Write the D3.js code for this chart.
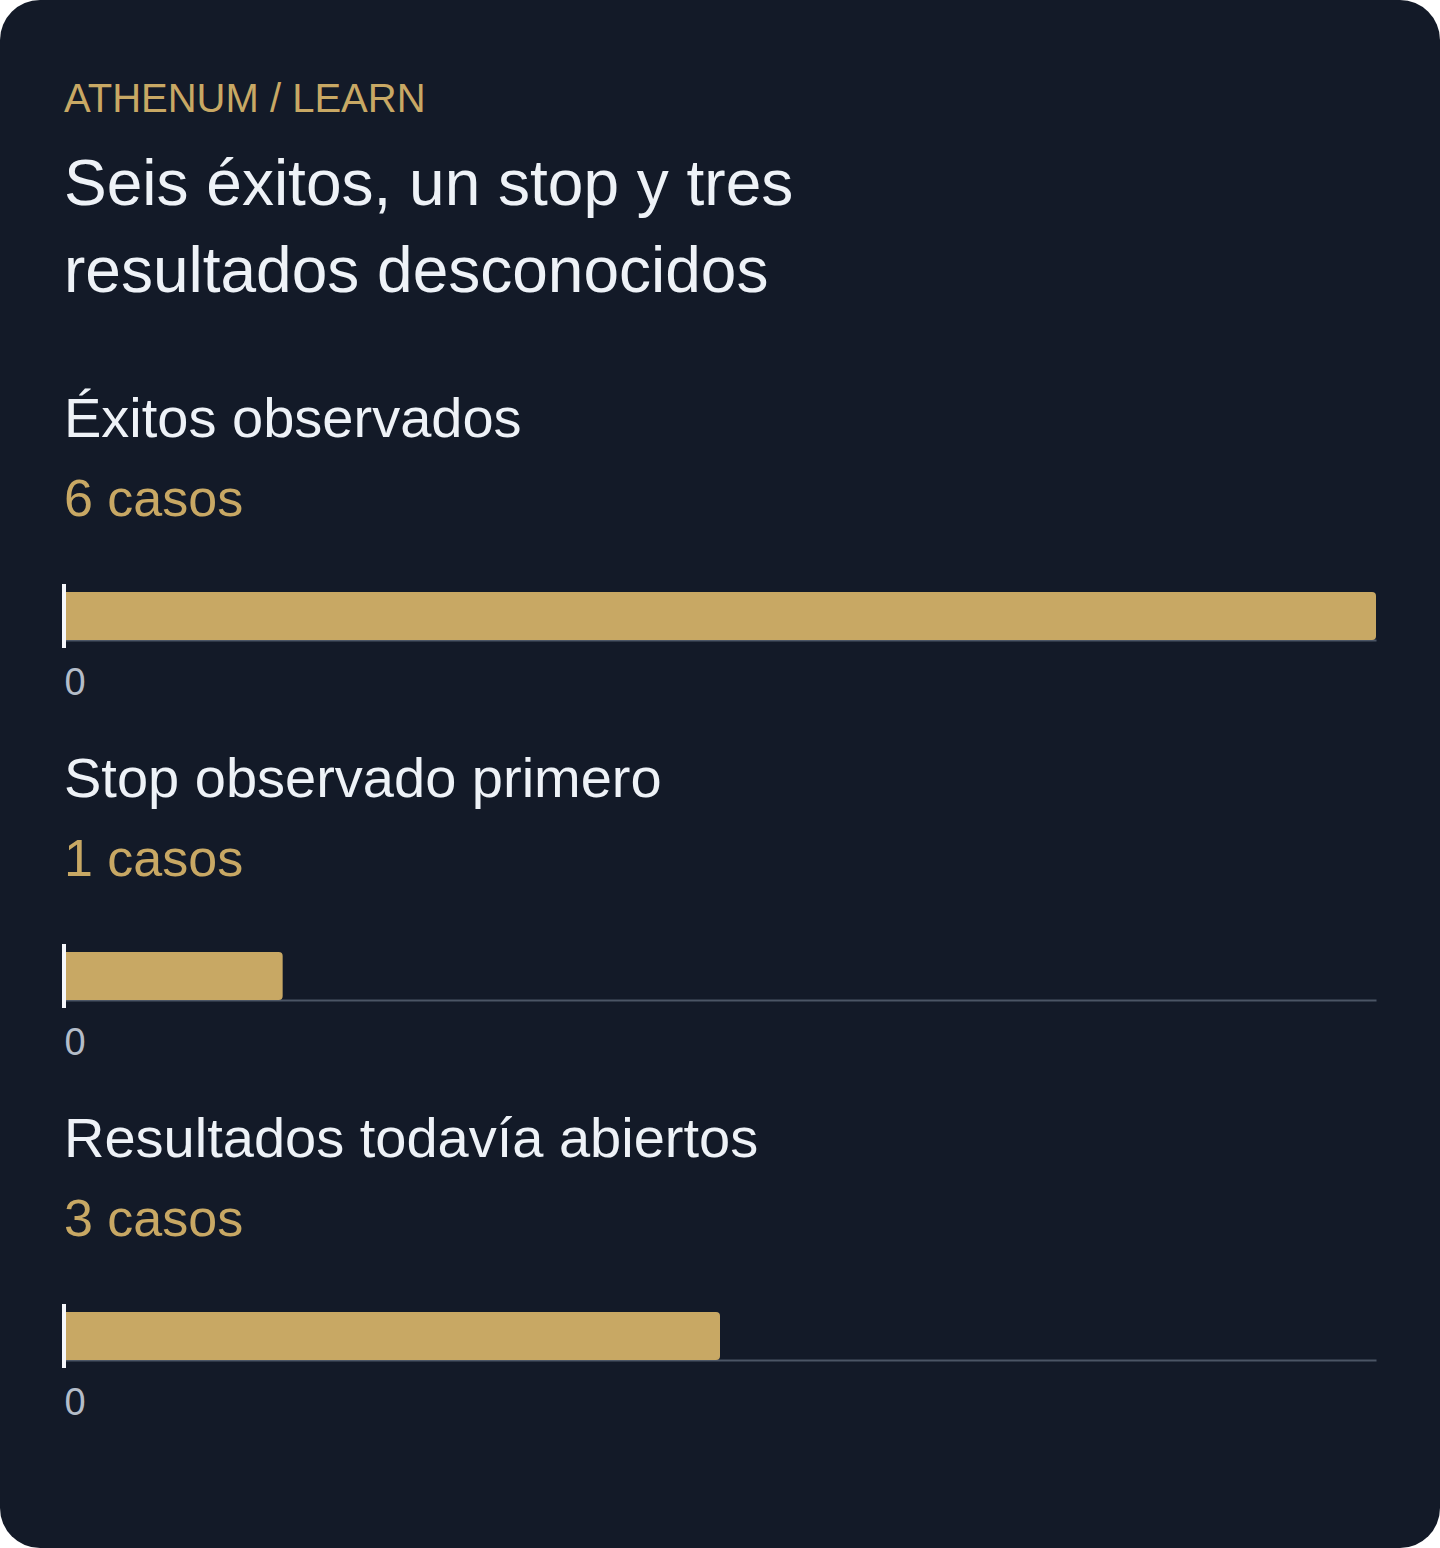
<!DOCTYPE html>
<html>
<head>
<meta charset="utf-8">
<script src="https://cdn.jsdelivr.net/npm/d3@7"></script>
<style>
  html, body { margin: 0; padding: 0; background: #ffffff; }
  svg { display: block; font-family: "Liberation Sans", Arial, sans-serif; }
</style>
</head>
<body>
<svg width="1440" height="1548"></svg>
<script>
// chart content
var kicker = "ATHENUM / LEARN";
var titleLines = ["Seis éxitos, un stop y tres", "resultados desconocidos"];
var categories = ["Éxitos observados", "Stop observado primero", "Resultados todavía abiertos"];
var counts = [6, 1, 3];
var unitLabel = "casos";
var tickValues = [0];

var W = 1440, H = 1548;
var left = 64, right = 1376;
var panelTop = 360, panelStep = 360;
var barH = 48;

var gold = "#c8a864", ink = "#eef2f7", bg = "#131a28";

var svg = d3.select("svg");

// card
svg.append("rect")
  .attr("width", W).attr("height", H)
  .attr("rx", 40).attr("ry", 40)
  .attr("fill", bg);

svg.append("text")
  .attr("x", left).attr("y", 112)
  .attr("fill", gold)
  .attr("font-size", 40)
  .text(kicker);

svg.append("text")
  .attr("fill", ink)
  .attr("font-size", 64)
  .selectAll("tspan")
  .data(titleLines)
  .enter().append("tspan")
  .attr("x", left)
  .attr("y", function(d, i) { return 205 + i * 87; })
  .text(function(d) { return d; });

var x = d3.scaleLinear().domain([0, d3.max(counts)]).range([left, right]);

// right-rounded bar shape
function barPath(x0, y0, w, h, r) {
  r = Math.min(r, w);
  return "M" + x0 + "," + y0 +
    "H" + (x0 + w - r) +
    "Q" + (x0 + w) + "," + y0 + " " + (x0 + w) + "," + (y0 + r) +
    "V" + (y0 + h - r) +
    "Q" + (x0 + w) + "," + (y0 + h) + " " + (x0 + w - r) + "," + (y0 + h) +
    "H" + x0 + "Z";
}

var panels = svg.selectAll("g.panel")
  .data(categories)
  .enter().append("g")
  .attr("class", "panel")
  .attr("transform", function(d, i) { return "translate(0," + (panelTop + i * panelStep) + ")"; });

panels.append("text")
  .attr("x", left).attr("y", 77)
  .attr("fill", ink)
  .attr("font-size", 56)
  .text(function(d) { return d; });

panels.append("text")
  .attr("x", left).attr("y", 156)
  .attr("fill", gold)
  .attr("font-size", 52)
  .text(function(d, i) { return counts[i] + " " + unitLabel; });

panels.each(function(d, i) {
  var g = d3.select(this);
  var axisY = 232 + barH;

  var axis = g.append("g")
    .attr("transform", "translate(0," + axisY + ")")
    .call(d3.axisBottom(x).tickValues(tickValues).tickFormat(d3.format("d")).tickSizeOuter(0).tickSize(0));

  axis.select(".domain").attr("stroke", "#4b5565").attr("stroke-width", 2);
  axis.selectAll(".tick line").remove();
  axis.selectAll(".tick text")
    .attr("fill", "#b4bdc9")
    .attr("font-size", 38)
    .attr("font-family", "Liberation Sans, Arial, sans-serif")
    .attr("text-anchor", "start")
    .attr("dy", null)
    .attr("y", 55);

  g.append("path")
    .attr("d", barPath(x(0), 232, x(counts[i]) - x(0), barH, 4))
    .attr("fill", gold);

  // zero baseline marker
  g.append("line")
    .attr("x1", x(0)).attr("x2", x(0))
    .attr("y1", 224).attr("y2", 288)
    .attr("stroke", "#f5f7fa")
    .attr("stroke-width", 4);
});
</script>
</body>
</html>
